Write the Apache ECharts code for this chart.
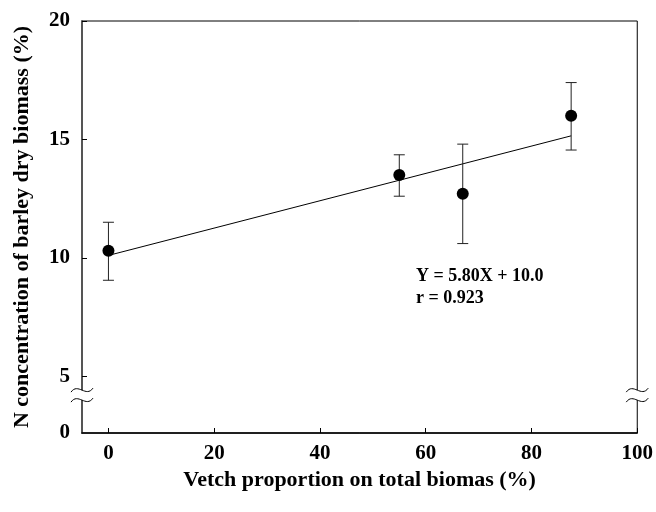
<!DOCTYPE html>
<html>
<head>
<meta charset="utf-8">
<script src="https://cdn.jsdelivr.net/npm/echarts@6/dist/echarts.min.js"></script>
<style>
  html, body { margin: 0; padding: 0; background: #fff; }
  #chart { width: 656px; height: 512px; }
</style>
</head>
<body>
<div id="chart"></div>
<script>
// data
const vetch = [0, 55, 67, 87.5];
const nConc = [10.3, 13.5, 12.7, 16.0];
const errLow = [9.05, 12.6, 10.6, 14.55];
const errHigh = [11.5, 14.35, 14.8, 17.4];
const fitX = [0, 87.5];
const fitY = [10.1, 15.15];
const yTicks = [5, 10, 15, 20];
const xTicks = [0, 20, 40, 60, 80, 100];
const yBottom = 2.6; // position shown as "0" below the axis break

const font = 'Liberation Serif, Times New Roman, serif';

let myChart = echarts.init(document.getElementById('chart'));

let option = {
  animation: false,
  grid: {
    left: 82, right: 15, top: 21, bottom: 79,
    show: true,
    borderColor: '#000',
    borderWidth: 1
  },
  xAxis: {
    type: 'value',
    min: -5,
    max: 100,
    name: 'Vetch proportion on total biomas (%)',
    nameLocation: 'middle',
    nameGap: 35,
    nameTextStyle: { fontFamily: font, fontWeight: 'bold', fontSize: 22, color: '#000' },
    axisLine: { onZero: false, lineStyle: { color: '#000', width: 1.5 } },
    axisTick: { inside: true, length: 5, customValues: xTicks, lineStyle: { color: '#000' } },
    axisLabel: {
      customValues: xTicks,
      margin: 10,
      fontFamily: font, fontWeight: 'bold', fontSize: 21, color: '#000'
    },
    splitLine: { show: false }
  },
  yAxis: {
    type: 'value',
    min: yBottom,
    max: 20,
    name: 'N concentration of barley dry biomass (%)',
    nameLocation: 'middle',
    nameGap: 49,
    nameTextStyle: { fontFamily: font, fontWeight: 'bold', fontSize: 22, color: '#000' },
    axisLine: { onZero: false, lineStyle: { color: '#555', width: 2 } },
    axisTick: { inside: true, length: 5, customValues: yTicks, lineStyle: { color: '#000' } },
    axisLabel: {
      customValues: [yBottom].concat(yTicks),
      margin: 12,
      formatter: v => (v < 5 ? '0' : String(v)),
      fontFamily: font, fontWeight: 'bold', fontSize: 21, color: '#000'
    },
    splitLine: { show: false }
  },
  series: [
    {
      name: 'fit',
      type: 'line',
      data: fitX.map((x, i) => [x, fitY[i]]),
      symbol: 'none',
      lineStyle: { color: '#000', width: 1 },
      z: 2
    },
    {
      name: 'error',
      type: 'custom',
      data: vetch.map((x, i) => [x, errLow[i], errHigh[i]]),
      renderItem(params, api) {
        let lo = api.coord([api.value(0), api.value(1)]);
        let hi = api.coord([api.value(0), api.value(2)]);
        let w = 5.5;
        let style = { stroke: '#222', lineWidth: 1 };
        return {
          type: 'group',
          children: [
            { type: 'line', shape: { x1: lo[0], y1: lo[1], x2: hi[0], y2: hi[1] }, style },
            { type: 'line', shape: { x1: lo[0] - w, y1: lo[1], x2: lo[0] + w, y2: lo[1] }, style },
            { type: 'line', shape: { x1: hi[0] - w, y1: hi[1], x2: hi[0] + w, y2: hi[1] }, style }
          ]
        };
      },
      z: 3
    },
    {
      name: 'N',
      type: 'scatter',
      data: vetch.map((x, i) => [x, nConc[i]]),
      symbol: 'circle',
      symbolSize: 12,
      itemStyle: { color: '#000', opacity: 1 },
      z: 4
    }
  ]
};
myChart.setOption(option);

// axis break marks and the regression note
let breakY = myChart.convertToPixel({ gridIndex: 0 }, [0, 4.2])[1];
let leftX = myChart.convertToPixel({ gridIndex: 0 }, [-5, 10])[0];
let rightX = myChart.convertToPixel({ gridIndex: 0 }, [100, 10])[0];

function breakMark(cx) {
  let wave = dy => ({
    type: 'bezierCurve',
    shape: {
      x1: cx - 11, y1: breakY + dy + 2,
      cpx1: cx - 4, cpy1: breakY + dy - 8,
      cpx2: cx + 4, cpy2: breakY + dy + 8,
      x2: cx + 11, y2: breakY + dy - 2
    },
    style: { stroke: '#000', fill: null, lineWidth: 1 },
    z: 101
  });
  return [
    { type: 'rect', shape: { x: cx - 2, y: breakY - 5, width: 4, height: 10 }, style: { fill: '#fff' }, z: 100 },
    wave(-5),
    wave(5)
  ];
}

myChart.setOption({
  graphic: breakMark(leftX).concat(breakMark(rightX)).concat([
    {
      type: 'text',
      left: 416,
      top: 265,
      style: {
        text: 'Y = 5.80X + 10.0\nr = 0.923',
        fontFamily: font,
        fontWeight: 'bold',
        fontSize: 18,
        lineHeight: 22,
        fill: '#000'
      },
      z: 100
    }
  ])
});
</script>
</body>
</html>
